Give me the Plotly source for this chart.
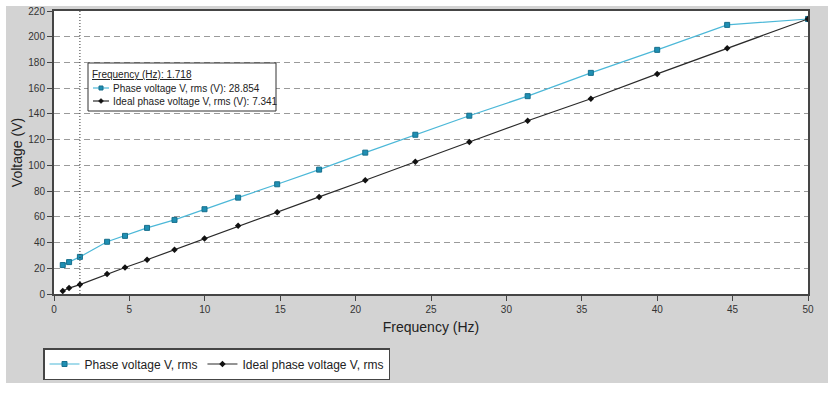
import plotly.graph_objects as go

# ---------------- data ----------------
freq = [0.58, 1.0, 1.718, 3.52, 4.71, 6.17, 7.99, 9.98, 12.21, 14.8, 17.58,
        20.64, 23.96, 27.54, 31.41, 35.6, 40.0, 44.64, 50.0]
phase_v = [22.5, 24.8, 28.854, 40.6, 45.2, 51.4, 57.6, 65.9, 74.9, 85.3, 96.7,
           109.9, 123.8, 138.6, 153.8, 171.9, 189.8, 209.2, 213.8]
ideal_v = [2.3, 4.6, 7.341, 15.5, 20.6, 26.6, 34.4, 43.1, 53.0, 63.6, 75.5,
           88.4, 102.9, 118.2, 134.7, 151.8, 171.1, 191.1, 213.8]
series_names = ["Phase voltage V, rms", "Ideal phase voltage V, rms"]
cursor_idx = 2
x_title = "Frequency (Hz)"
y_title = "Voltage (V)"
x_ticks = [0, 5, 10, 15, 20, 25, 30, 35, 40, 45, 50]
y_ticks = [0, 20, 40, 60, 80, 100, 120, 140, 160, 180, 200, 220]

# ---------------- style ----------------
W, H = 835, 394
L, R, T, B = 54, 27, 11, 100
PW, PH = W - L - R, H - T - B
FONT = "Arial, Liberation Sans, sans-serif"
BLUE_LINE = "#4cb8d8"
BLUE_MARK = "#1f8fb3"
BLACK = "#2a2a2a"
FRAME = "#454545"
GRAY_BG = "#d3d3d3"


def px(x):
    return (x - L) / PW


def py(y):
    return (H - B - y) / PH


fig = go.Figure()
fig.add_trace(go.Scatter(
    x=freq, y=phase_v, name=series_names[0], mode="lines+markers",
    line=dict(color=BLUE_LINE, width=1.2),
    marker=dict(symbol="square", size=5, color=BLUE_MARK,
                line=dict(color="#176f8c", width=1)),
))
fig.add_trace(go.Scatter(
    x=freq, y=ideal_v, name=series_names[1], mode="lines+markers",
    line=dict(color=BLACK, width=1.2),
    marker=dict(symbol="diamond", size=5, color="#111111"),
))

shapes = [
    # grey panel
    dict(type="rect", xref="paper", yref="paper", x0=px(6), x1=px(828),
         y0=py(383), y1=py(6), fillcolor=GRAY_BG, line=dict(width=0), layer="below"),
    # white plot area
    dict(type="rect", xref="paper", yref="paper", x0=0, x1=1, y0=0, y1=1,
         fillcolor="white", line=dict(width=0), layer="below"),
    # cursor line
    dict(type="line", xref="x", yref="paper", x0=freq[cursor_idx], x1=freq[cursor_idx],
         y0=0, y1=1, line=dict(color="#333333", width=1, dash="1px,2px"), layer="above"),
    # tooltip box
    dict(type="rect", xref="paper", yref="paper", x0=px(88), x1=px(276),
         y0=py(111), y1=py(63), fillcolor="white",
         line=dict(color="#333333", width=1), layer="above"),
    # tooltip symbol 1
    dict(type="line", xref="paper", yref="paper", x0=px(93), x1=px(109),
         y0=py(88), y1=py(88), line=dict(color=BLUE_LINE, width=1.2), layer="above"),
    dict(type="rect", xref="paper", yref="paper", x0=px(99), x1=px(103),
         y0=py(90), y1=py(86), fillcolor=BLUE_MARK,
         line=dict(color="#176f8c", width=1), layer="above"),
    # tooltip symbol 2
    dict(type="line", xref="paper", yref="paper", x0=px(93), x1=px(109),
         y0=py(101), y1=py(101), line=dict(color=BLACK, width=1.2), layer="above"),
    dict(type="path", xref="paper", yref="paper",
         path=f"M{px(101)},{py(98.5)} L{px(103.5)},{py(101)} L{px(101)},{py(103.5)} L{px(98.5)},{py(101)} Z",
         fillcolor="#111111", line=dict(color="#111111", width=0.5), layer="above"),
]

annotations = [
    dict(xref="paper", yref="paper", x=px(90), y=py(74.5), xanchor="left", yanchor="middle",
         text=f"<u>{x_title}: {freq[cursor_idx]}</u>", showarrow=False,
         font=dict(family=FONT, size=10, color="#222222")),
    dict(xref="paper", yref="paper", x=px(111), y=py(88), xanchor="left", yanchor="middle",
         text=f"{series_names[0]} (V): {phase_v[cursor_idx]}", showarrow=False,
         font=dict(family=FONT, size=10, color="#222222")),
    dict(xref="paper", yref="paper", x=px(111), y=py(101), xanchor="left", yanchor="middle",
         text=f"{series_names[1]} (V): {ideal_v[cursor_idx]}", showarrow=False,
         font=dict(family=FONT, size=10, color="#222222")),
]

axis_common = dict(
    showline=True, linecolor=FRAME, linewidth=2, mirror=True,
    ticks="outside", ticklen=5, tickcolor=FRAME, tickwidth=1,
    tickfont=dict(family=FONT, size=10, color="#333333"),
    zeroline=False,
)

fig.update_layout(
    width=W, height=H,
    margin=dict(l=L, r=R, t=T, b=B, autoexpand=False),
    paper_bgcolor="white", plot_bgcolor="white",
    font=dict(family=FONT, color="#222222"),
    shapes=shapes, annotations=annotations,
    showlegend=True,
    legend=dict(orientation="h", x=px(43), y=py(348), xanchor="left", yanchor="top",
                bgcolor="white", bordercolor=FRAME, borderwidth=1.5,
                font=dict(family=FONT, size=12, color="#222222"),
                itemwidth=30, tracegroupgap=0),
    xaxis=dict(range=[0, 50], tickvals=x_ticks, showgrid=False,
               title=dict(text=x_title, font=dict(family=FONT, size=14, color="#222222"), standoff=8),
               automargin=False, **axis_common),
    yaxis=dict(range=[0, 220], tickvals=y_ticks, showgrid=True,
               gridcolor="#9a9a9a", griddash="6px,4px", gridwidth=1,
               title=dict(text=y_title, font=dict(family=FONT, size=14, color="#222222"), standoff=2),
               automargin=False, **axis_common),
)

fig.write_html("out.html", config={"displayModeBar": False},
               post_script="document.body.style.margin='0';document.body.style.padding='0';")
